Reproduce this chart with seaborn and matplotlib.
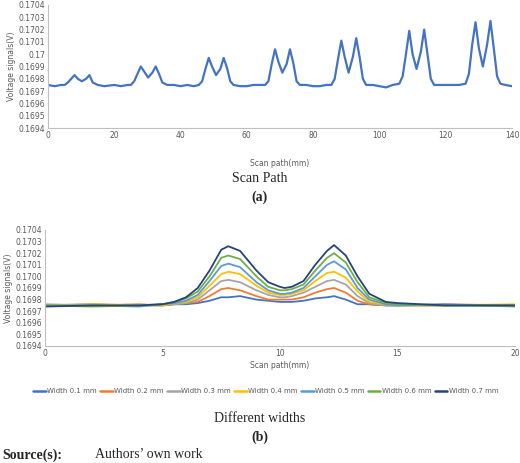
import matplotlib
matplotlib.use("Agg")
import matplotlib.pyplot as plt
import seaborn as sns
import pandas as pd

# Top chart data
scan_x = [0, 2, 4, 5, 6, 7, 8, 9, 10.2, 11.5, 12.5, 13.5, 15, 17, 20, 22, 24,
          25, 26, 27, 28, 29, 30.2, 31.5, 32.5, 33.5, 34.5, 36, 38, 40, 42, 44,
          45.5, 46.5, 47.5, 48.5, 49.5, 50.7, 52, 53, 54, 55, 56, 58, 60, 62, 64,
          65.5, 66.5, 67.5, 68.5, 69.5, 70.7, 72, 73, 74, 75, 76, 78, 80, 82, 84,
          85.5, 86.5, 87.5, 88.5, 89.5, 90.7, 92, 93, 94, 95, 96, 98, 100, 102, 104,
          106, 107, 108, 109, 110, 111.2, 112.5, 113.5, 114.5, 115.5, 116.5, 118, 120, 122, 124,
          126, 127, 128, 129, 130, 131.2, 132.5, 133.5, 134.5, 135.5, 136.5, 138, 140]
scan_y = [0.16975, 0.16974, 0.16975, 0.16975, 0.16977, 0.16980, 0.16983, 0.16980, 0.16978, 0.16980, 0.16983, 0.16977, 0.16975, 0.16974, 0.16975, 0.16974, 0.16975,
          0.16975, 0.16978, 0.16984, 0.16990, 0.16986, 0.16981, 0.16985, 0.16990, 0.16984, 0.16977, 0.16975, 0.16975, 0.16974, 0.16975, 0.16974,
          0.16975, 0.16978, 0.16988, 0.16997, 0.16990, 0.16983, 0.16988, 0.16997, 0.16989, 0.16978, 0.16975, 0.16974, 0.16974, 0.16975, 0.16975,
          0.16975, 0.16978, 0.16992, 0.17004, 0.16994, 0.16985, 0.16992, 0.17004, 0.16993, 0.16978, 0.16975, 0.16975, 0.16974, 0.16974, 0.16975,
          0.16975, 0.16980, 0.16996, 0.17011, 0.16998, 0.16985, 0.16998, 0.17013, 0.16998, 0.16980, 0.16975, 0.16975, 0.16974, 0.16973, 0.16975,
          0.16976, 0.16982, 0.17000, 0.17019, 0.17000, 0.16988, 0.17002, 0.17020, 0.17000, 0.16980, 0.16975, 0.16975, 0.16975, 0.16975, 0.16975,
          0.16976, 0.16984, 0.17008, 0.17026, 0.17005, 0.16990, 0.17008, 0.17027, 0.17005, 0.16982, 0.16976, 0.16975, 0.16974]

# Bottom chart data
width_x = [0, 2, 4, 5, 5.5, 6, 6.5, 7, 7.5, 7.8, 8.3, 9, 9.5, 10, 10.2, 10.5, 11, 11.5, 12, 12.3, 12.8, 13.3, 13.8, 14.5, 15, 17, 20]
widths = ["Width 0.1 mm", "Width 0.2 mm", "Width 0.3 mm", "Width 0.4 mm", "Width 0.5 mm", "Width 0.6 mm", "Width 0.7 mm"]
w01 = [.16975, .16976, .16975, .16975, .16976, .16976, .16977, .16979, .16982, .16982, .16983, .16980, .16979, .16978, .16978, .16978, .16979, .16981, .16982, .16983, .16980, .16976, .16976, .16975, .16975, .16975, .16975]
w02 = [.16975, .16975, .16976, .16975, .16976, .16977, .16978, .16983, .16989, .16990, .16988, .16983, .16980, .16980, .16980, .16980, .16982, .16986, .16989, .16990, .16986, .16979, .16976, .16975, .16975, .16976, .16975]
w03 = [.16976, .16975, .16975, .16976, .16976, .16977, .16980, .16988, .16996, .16997, .16995, .16988, .16984, .16982, .16982, .16983, .16986, .16991, .16996, .16997, .16993, .16983, .16977, .16975, .16975, .16975, .16975]
w04 = [.16975, .16976, .16975, .16975, .16977, .16978, .16982, .16992, .17002, .17004, .17002, .16992, .16986, .16984, .16984, .16985, .16988, .16996, .17003, .17004, .16999, .16987, .16978, .16976, .16975, .16975, .16976]
w05 = [.16975, .16975, .16974, .16976, .16977, .16979, .16984, .16996, .17009, .17011, .17008, .16995, .16988, .16985, .16985, .16986, .16990, .17000, .17010, .17013, .17006, .16990, .16980, .16976, .16975, .16976, .16974]
w06 = [.16975, .16974, .16975, .16976, .16978, .16981, .16987, .17000, .17016, .17018, .17015, .17000, .16991, .16988, .16988, .16989, .16993, .17005, .17016, .17020, .17012, .16995, .16982, .16977, .16976, .16975, .16975]
w07 = [.16974, .16975, .16975, .16976, .16978, .16982, .16990, .17005, .17023, .17026, .17022, .17005, .16995, .16991, .16990, .16991, .16996, .17010, .17022, .17027, .17018, .17000, .16985, .16978, .16977, .16975, .16975]
colors = ["#4472C4", "#ED7D31", "#A5A5A5", "#FFC000", "#5B9BD5", "#70AD47", "#264478"]

sns.set_style("white")
plt.rcParams['font.family'] = ['DejaVu Sans']

fig = plt.figure(figsize=(5.2, 4.63), dpi=100)
gray = "#595959"

def style(ax, xt):
    for s in ["top", "right"]:
        ax.spines[s].set_visible(False)
    for s in ["left", "bottom"]:
        ax.spines[s].set_color("#BFBFBF")
        ax.spines[s].set_linewidth(0.8)
    ax.set_ylim(0.1694, 0.1704)
    ax.set_yticks([0.1694 + i * 0.0001 for i in range(11)])
    ax.set_xticks(xt)
    ax.tick_params(labelsize=5.5, colors=gray, length=0, pad=2)
    ax.set_ylabel("Voltage signals(V)", fontsize=5.5, color=gray, labelpad=2)

ax1 = fig.add_axes([48 / 520, 1 - 128 / 463, 464 / 520, 123 / 463])
sns.lineplot(x=scan_x, y=scan_y, ax=ax1, color="#4472C4", linewidth=1.6)
ax1.set_xlim(0, 140)
style(ax1, range(0, 141, 20))
ax1.set_yticklabels(["0.1694", "0.1695", "0.1696", "0.1697", "0.1698", "0.1699", "0.17", "0.1701", "0.1702", "0.1703", "0.1704"])
ax1.set_xlabel("Scan path(mm)", fontsize=5.5, color=gray, labelpad=14)

ax2 = fig.add_axes([45 / 520, 1 - 346 / 463, 470 / 520, 116 / 463])
rows = []
for name, ys in zip(widths, [w01, w02, w03, w04, w05, w06, w07]):
    for xv, yv in zip(width_x, ys):
        rows.append({"x": xv, "y": yv, "series": name})
df = pd.DataFrame(rows)
sns.lineplot(data=df, x="x", y="y", hue="series", palette=colors, ax=ax2, linewidth=1.3, legend=True)
ax2.set_xlim(0, 20)
style(ax2, [0, 5, 10, 15, 20])
ax2.set_yticklabels(["%.4f" % (0.1694 + i * 0.0001) for i in range(11)])
ax2.set_xlabel("Scan path(mm)", fontsize=5.5, color=gray, labelpad=2)
leg = ax2.legend(loc="center", bbox_to_anchor=(0.47, -0.39), ncol=7, frameon=False,
                 fontsize=5.0, handlelength=1.8, columnspacing=0.5, handletextpad=0.2,
                 labelcolor=gray)
for l in leg.get_lines():
    l.set_linewidth(1.8)

serif = ['Liberation Serif']
fig.text(0.5, 1 - 178 / 463, "Scan Path", ha="center", va="center", fontsize=10, family=serif)
fig.text(0.5, 1 - 197 / 463, "(a)", ha="center", va="center", fontsize=10, weight="bold", family=serif)
fig.text(0.5, 1 - 418 / 463, "Different widths", ha="center", va="center", fontsize=10, family=serif)
fig.text(0.5, 1 - 437 / 463, "(b)", ha="center", va="center", fontsize=10, weight="bold", family=serif)
fig.text(0.005, 1 - 455 / 463, "Source(s):", ha="left", va="center", fontsize=10, weight="bold", family=serif)
fig.text(95 / 520, 1 - 455 / 463, "Authors’ own work", ha="left", va="center", fontsize=10, family=serif)

fig.savefig("out.png", dpi=100)
